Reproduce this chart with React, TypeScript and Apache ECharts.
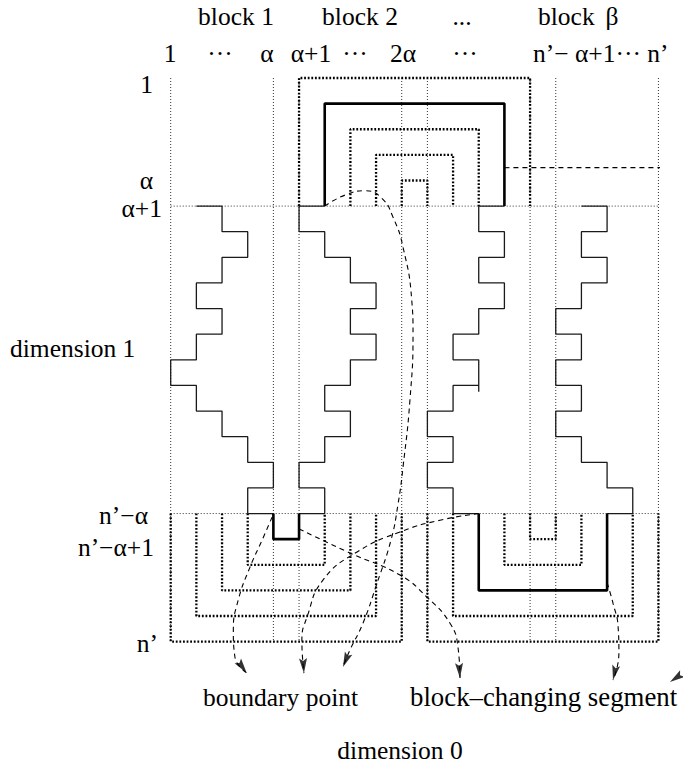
import React, { useEffect, useRef } from 'react';
import * as echarts from 'echarts';

// ---------- data (grid units: column, row) ----------
const gridCols = [0, 4, 5, 9, 10, 14, 15, 19];
const gridRows = [0, 12];
const colRange = [0, 19];
const rowRange = [-5, 17];

// arches: [leftCol, rightCol, extremeRow]
const topBaseRow = 0;
const topArchesDotted = [[5, 14, -5], [7, 12, -3], [8, 11, -2], [9, 10, -1]];
const topArchBold = [6, 13, -4];
const bottomBaseRow = 12;
const bottomLeftDotted = [[3, 6, 14], [2, 7, 15], [1, 8, 16], [0, 9, 17]];
const bottomLeftBold = [4, 5, 13];
const bottomRightDotted = [[14, 15, 13], [13, 16, 14], [11, 18, 16], [10, 19, 17]];
const bottomRightBold = [12, 17, 15];

const stairA = [[1,0],[2,0],[2,1],[3,1],[3,2],[2,2],[2,3],[1,3],[1,4],[2,4],[2,5],[1,5],[1,6],[0,6],[0,7],[1,7],[1,8],[2,8],[2,9],[3,9],[3,10],[4,10],[4,11],[3,11],[3,12],[4,12]];
const stairB = [[6,0],[5,0],[5,1],[6,1],[6,2],[7,2],[7,3],[8,3],[8,4],[7,4],[7,5],[8,5],[8,6],[7,6],[7,7],[6,7],[6,8],[7,8],[7,9],[6,9],[6,10],[5,10],[5,11],[6,11],[6,12],[5,12]];
const stairC = [[13,0],[12,0],[12,1],[13,1],[13,2],[12,2],[12,3],[13,3],[13,4],[12,4],[12,5],[11,5],[11,6],[12,6],[12,7],[11,7],[11,8],[10,8],[10,9],[11,9],[11,10],[10,10],[10,11],[11,11],[11,12],[12,12]];
const stairCTick = [[12,7],[12,7.25]];
const stairD = [[16,0],[17,0],[17,1],[16,1],[16,2],[17,2],[17,3],[16,3],[16,4],[15,4],[15,5],[16,5],[16,6],[15,6],[15,7],[16,7],[16,8],[15,8],[15,9],[16,9],[16,10],[17,10],[17,11],[18,11],[18,12],[17,12]];

// dashed pointer curves (last point is the arrow tip)
const curveTop = [[6,0],[6.79,-0.43],[7.57,-0.6],[8.22,-0.31],[8.66,0.43],[9.05,1.6],[9.39,3.67],[9.44,4.96],[9.32,7.57],[9.05,10.19],[8.85,11.67],[8.58,13.04],[8.04,14.71],[7.49,16.28],[6.98,17.33],[6.71,17.99]];
const curveBoundary = [[3.95,12.14],[3.56,13.04],[3.09,14.09],[2.63,15.38],[2.44,16.55],[2.5,17.59],[2.96,18.22]];
const curveCross = [[12,12],[10.49,12.26],[8.93,12.72],[7.26,13.5],[5.93,14.6],[5.31,16.04],[5.11,16.94],[5.19,18.23]];
const curveSeg = [[5,12.6],[6.98,13.54],[8.93,14.4],[9.98,15.26],[10.88,16.28],[11.19,17.21],[11.27,18.42]];
const curveRight = [[17,14.7],[17.23,15.5],[17.43,16.43],[17.46,17.45],[17.23,18.5]];
const guideLine = [[13,-1.5],[19.96,-1.5]];
const loneArrow = [[19.96,18.23],[19.45,18.58]];

// texts
const headerBlocks = ['block 1', 'block 2', '...', 'block', 'β'];
const headerIndices = ['1', '···', 'α', 'α+1', '···', '2α', '···', 'n’− α+1··· n’'];
const rowLabels = ['1', 'α', 'α+1', 'n’−α', 'n’−α+1', 'n’'];
const axisNames = ['dimension 1', 'dimension 0'];
const callouts = ['boundary point', 'block–changing segment'];

// ---------- layout ----------
const GRID_LEFT = 170.7;
const GRID_TOP = 78;
const UX = 25.67;
const UY = 25.62;
const FONT_SIZE = 25.5;
const FONT_FAMILY = 'Liberation Serif';

const arch = (a: number[], base: number) => [[a[0], base], [a[0], a[2]], [a[1], a[2]], [a[1], base]];

export default function App() {
  const ref = useRef<HTMLDivElement>(null);
  useEffect(() => {
    if (!ref.current) return;
    const chart = echarts.init(ref.current, undefined, { renderer: 'svg' });

    const gridStyle = { color: '#333', width: 1, type: [1, 2] as any };
    const dotStyle = { color: '#000', width: 2.3, type: [1.8, 1.8] as any };
    const boldStyle = { color: '#000', width: 2.6, type: 'solid' as any };
    const stairStyle = { color: '#1a1a1a', width: 1.3, type: 'solid' as any };
    const dashStyle = { color: '#000', width: 1.1, type: [5, 4] as any };

    const series: any[] = [];
    const line = (data: number[][], lineStyle: any, z: number, smooth = false) =>
      series.push({ type: 'line', data, symbol: 'none', showSymbol: false, clip: false, silent: true, smooth, lineStyle, z, animation: false });

    gridCols.forEach(c => line([[c, rowRange[0]], [c, rowRange[1]]], gridStyle, 1));
    gridRows.forEach(r => line([[colRange[0], r], [colRange[1], r]], gridStyle, 1));

    topArchesDotted.forEach(a => line(arch(a, topBaseRow), dotStyle, 2));
    bottomLeftDotted.forEach(a => line(arch(a, bottomBaseRow), dotStyle, 2));
    bottomRightDotted.forEach(a => line(arch(a, bottomBaseRow), dotStyle, 2));

    [stairA, stairB, stairC, stairCTick, stairD].forEach(s => line(s, stairStyle, 3));

    [topArchBold].forEach(a => line(arch(a, topBaseRow), boldStyle, 4));
    [bottomLeftBold, bottomRightBold].forEach(a => line(arch(a, bottomBaseRow), boldStyle, 4));

    const curves = [curveTop, curveBoundary, curveCross, curveSeg, curveRight];
    curves.forEach(c => line(c, dashStyle, 5, true));
    line(guideLine, dashStyle, 5);

    const arrowOf = (pts: number[][]) => {
      const tip = pts[pts.length - 1];
      const prev = pts[pts.length - 2];
      const dx = (tip[0] - prev[0]) * UX;
      const dy = (tip[1] - prev[1]) * UY;
      const n = Math.hypot(dx, dy) || 1;
      const ux = dx / n, uy = dy / n;
      const half = 7.5;
      return {
        value: [tip[0] - (ux * half) / UX, tip[1] - (uy * half) / UY],
        symbolRotate: (Math.atan2(-ux, -uy) * 180) / Math.PI,
      };
    };
    series.push({
      type: 'scatter',
      data: [...curves, loneArrow].map(arrowOf),
      symbol: 'path://M5,0L10,16L5,13L0,16Z',
      symbolSize: [8, 15],
      itemStyle: { color: '#000' },
      clip: false,
      silent: true,
      z: 6,
    });

    const txt = (text: string, x: number, y: number, align: string, size = FONT_SIZE) => ({
      type: 'text', silent: true,
      style: { text, x, y, fontSize: size, fontFamily: FONT_FAMILY, fill: '#000', textAlign: align, align, textVerticalAlign: 'middle', verticalAlign: 'middle' },
    });

    const graphic = [
      txt(headerBlocks[0], 236, 16, 'center'),
      txt(headerBlocks[1], 360, 16, 'center'),
      txt(headerBlocks[2], 462, 16, 'center'),
      txt(headerBlocks[3], 538, 16, 'left'),
      txt(headerBlocks[4], 612, 16, 'center'),
      txt(headerIndices[0], 170, 53, 'center'),
      txt(headerIndices[1], 220, 53, 'center'),
      txt(headerIndices[2], 267, 53, 'center'),
      txt(headerIndices[3], 311, 53, 'center'),
      txt(headerIndices[4], 355, 53, 'center'),
      txt(headerIndices[5], 403, 53, 'center'),
      txt(headerIndices[6], 465, 53, 'center'),
      txt(headerIndices[7], 533, 53, 'left'),
      txt(rowLabels[0], 153, 84, 'right'),
      txt(rowLabels[1], 153, 180, 'right'),
      txt(rowLabels[2], 162, 208, 'right'),
      txt(rowLabels[3], 148, 515, 'right'),
      txt(rowLabels[4], 154, 547, 'right'),
      txt(rowLabels[5], 158, 643, 'right'),
      txt(axisNames[0], 10, 348, 'left'),
      txt(axisNames[1], 400, 750, 'center'),
      txt(callouts[0], 203, 697, 'left'),
      txt(callouts[1], 410, 697, 'left', 26.8),
    ];

    chart.setOption({
      animation: false,
      backgroundColor: '#fff',
      grid: { left: GRID_LEFT, top: GRID_TOP, width: UX * (colRange[1] - colRange[0]), height: UY * (rowRange[1] - rowRange[0]), containLabel: false },
      xAxis: { type: 'value', min: colRange[0], max: colRange[1], show: false },
      yAxis: { type: 'value', min: rowRange[0], max: rowRange[1], inverse: true, show: false },
      series,
      graphic,
    });
    return () => chart.dispose();
  }, []);
  return <div ref={ref} style={{ position: 'absolute', left: 0, top: 0, width: 683, height: 766 }} />;
}
